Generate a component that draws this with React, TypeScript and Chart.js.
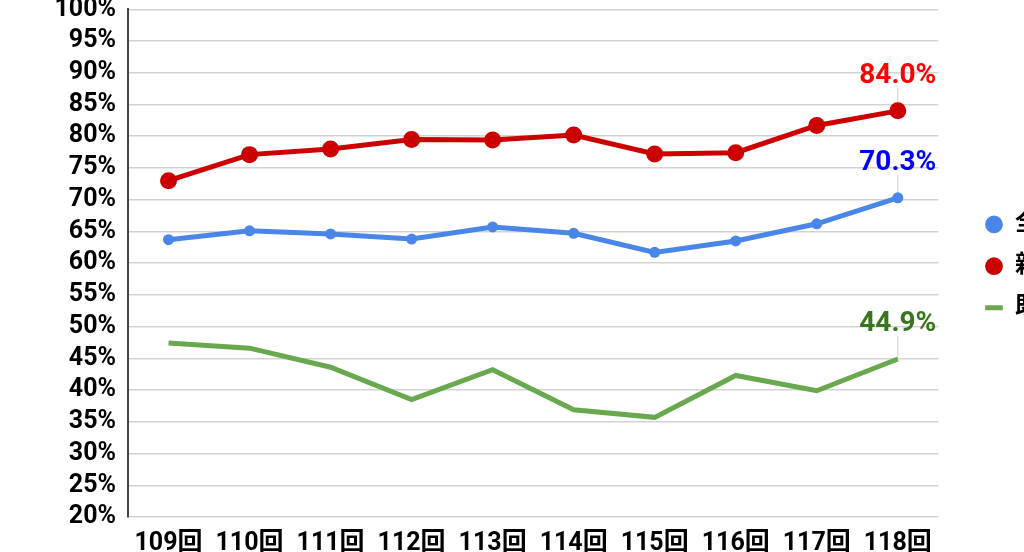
import { useEffect, useRef } from "react";
import { Chart, registerables } from "chart.js";

Chart.register(...registerables);

const rounds = ["109回", "110回", "111回", "112回", "113回", "114回", "115回", "116回", "117回", "118回"];
const overallRate = [63.7, 65.1, 64.6, 63.8, 65.7, 64.7, 61.7, 63.5, 66.2, 70.3];
const newGradRate = [73.0, 77.1, 78.0, 79.5, 79.4, 80.2, 77.2, 77.4, 81.7, 84.0];
const repeaterRate = [47.4, 46.6, 43.6, 38.5, 43.2, 36.9, 35.7, 42.3, 39.9, 44.9];
const seriesNames = ["全体", "新卒", "既卒"];
const lineColors = ["#4a86e8", "#cc0000", "#6aa84f"];
const labelColors = ["#0000ff", "#ff0000", "#38761d"];

const yMin = 20;
const yMax = 100;
const yStep = 5;

const FONT = "Roboto, 'Noto Sans CJK JP', sans-serif";

// value labels on the last point of every series, with a thin leader line
const lastValueLabels = {
  id: "lastValueLabels",
  beforeDatasetsDraw(chart: any) {
    const ctx = chart.ctx;
    chart.data.datasets.forEach((_ds: any, i: number) => {
      const meta = chart.getDatasetMeta(i);
      const pt = meta.data[meta.data.length - 1];
      ctx.save();
      ctx.strokeStyle = "#d0d0d0";
      ctx.lineWidth = 1;
      ctx.beginPath();
      ctx.moveTo(pt.x, pt.y - 23);
      ctx.lineTo(pt.x, pt.y);
      ctx.stroke();
      ctx.restore();
    });
  },
  afterDatasetsDraw(chart: any) {
    const ctx = chart.ctx;
    chart.data.datasets.forEach((ds: any, i: number) => {
      const meta = chart.getDatasetMeta(i);
      const pt = meta.data[meta.data.length - 1];
      const v = ds.data[ds.data.length - 1] as number;
      ctx.save();
      ctx.font = `bold 28px ${FONT}`;
      ctx.fillStyle = labelColors[i];
      ctx.textAlign = "center";
      ctx.textBaseline = "middle";
      ctx.fillText(v.toFixed(1) + "%", pt.x, pt.y - 35);
      ctx.restore();
    });
  },
};

// push the legend a bit further away from the plot
const legendNudge = {
  id: "legendNudge",
  afterLayout(chart: any) {
    const lg = chart.legend;
    if (!lg) return;
    lg.left += 29;
    lg.right += 29;
    lg.top += 3;
    lg.bottom += 3;
  },
};

export default function App() {
  const canvasRef = useRef<HTMLCanvasElement>(null);

  useEffect(() => {
    if (!canvasRef.current) return;
    const chart = new Chart(canvasRef.current, {
      type: "line",
      data: {
        labels: rounds,
        datasets: [
          {
            label: seriesNames[0],
            data: overallRate,
            borderColor: lineColors[0],
            backgroundColor: lineColors[0],
            borderWidth: 5,
            pointRadius: 5.5,
            pointBorderWidth: 0,
            pointStyle: "circle",
            tension: 0,
          },
          {
            label: seriesNames[1],
            data: newGradRate,
            borderColor: lineColors[1],
            backgroundColor: lineColors[1],
            borderWidth: 5,
            pointRadius: 8.5,
            pointBorderWidth: 0,
            pointStyle: "circle",
            tension: 0,
          },
          {
            label: seriesNames[2],
            data: repeaterRate,
            borderColor: lineColors[2],
            backgroundColor: lineColors[2],
            borderWidth: 5,
            pointRadius: 0,
            pointStyle: "line",
            tension: 0,
          },
        ],
      },
      options: {
        animation: false,
        responsive: true,
        maintainAspectRatio: false,
        layout: { padding: { top: 9.3, left: 0, right: 0, bottom: 0 } },
        plugins: {
          tooltip: { enabled: false },
          legend: {
            position: "right",
            fullSize: false,
            labels: {
              usePointStyle: true,
              boxWidth: 18,
              boxHeight: 12.5,
              padding: 17.7,
              color: "#000000",
              font: { family: FONT, size: 24, weight: "bold" },
              generateLabels(chart: any) {
                const items = Chart.defaults.plugins.legend.labels.generateLabels(chart);
                return items.map((it: any, i: number) => ({
                  ...it,
                  lineWidth: i === 2 ? 5 : 0,
                  strokeStyle: lineColors[i],
                  fillStyle: lineColors[i],
                }));
              },
            },
          },
        },
        scales: {
          x: {
            offset: true,
            grid: { display: false },
            border: { display: false },
            ticks: {
              autoSkip: false,
              maxRotation: 0,
              padding: 4,
              color: "#000000",
              font: { family: FONT, size: 25, weight: "bold" },
            },
            afterFit(scale: any) {
              scale.height = 50;
              scale.paddingLeft = 0;
              scale.paddingRight = 0;
            },
          },
          y: {
            min: yMin,
            max: yMax,
            grid: { color: "#d3d3d3", lineWidth: 1.5, drawTicks: false },
            border: { display: true, color: "#444444", width: 2 },
            ticks: {
              stepSize: yStep,
              autoSkip: false,
              padding: 12,
              color: "#000000",
              font: { family: FONT, size: 25, weight: "bold" },
              callback: (v: any) => `${v}%`,
            },
            afterFit(scale: any) {
              scale.width = 128;
              scale.paddingTop = 0;
              scale.paddingBottom = 0;
            },
          },
        },
      },
      plugins: [lastValueLabels, legendNudge],
    });
    return () => {
      chart.destroy();
    };
  }, []);

  return (
    <div style={{ position: "absolute", left: 0, top: 0, width: 1024, height: 552, overflow: "hidden", background: "#fff" }}>
      <div style={{ position: "absolute", left: 0, top: 0, width: 1044, height: 567 }}>
        <canvas ref={canvasRef} />
      </div>
    </div>
  );
}
